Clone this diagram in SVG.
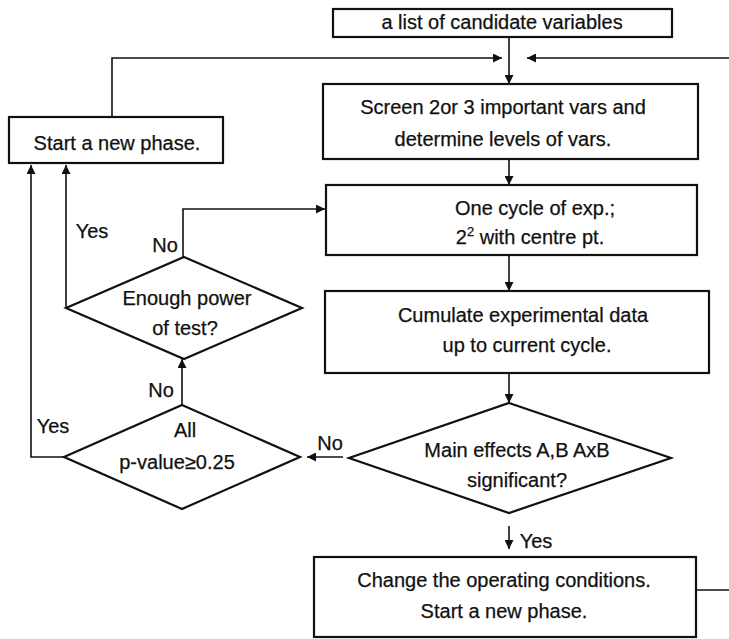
<svg xmlns="http://www.w3.org/2000/svg" width="729" height="639" viewBox="0 0 729 639">
<style>
.box{fill:#fff;stroke:#111;stroke-width:2.2}
.ln{fill:none;stroke:#111;stroke-width:1.6}
text{font-family:"Liberation Sans",Arial,sans-serif;font-size:20px;fill:#111;text-anchor:middle;stroke:#111;stroke-width:0.25}
</style>
<defs>
<marker id="ah" viewBox="0 0 10 10" refX="10" refY="5" markerWidth="11" markerHeight="9" markerUnits="userSpaceOnUse" orient="auto">
<path d="M0,0 L10,5 L0,10 z" fill="#111"/>
</marker>
</defs>
<rect width="729" height="639" fill="#fff"/>
<g id="connectors">
<path class="ln" d="M509,37 V84" marker-end="url(#ah)"/>
<path class="ln" d="M112,117 V58 H502" marker-end="url(#ah)"/>
<path class="ln" d="M696,590 H745 V58 H527" marker-end="url(#ah)"/>
<path class="ln" d="M509,159 V185" marker-end="url(#ah)"/>
<path class="ln" d="M509,255 V291" marker-end="url(#ah)"/>
<path class="ln" d="M509,373 V403" marker-end="url(#ah)"/>
<path class="ln" d="M343,457 H307" marker-end="url(#ah)"/>
<path class="ln" d="M509,526 V549" marker-end="url(#ah)"/>
<path class="ln" d="M182,405 V359" marker-end="url(#ah)"/>
<path class="ln" d="M183,257 V209 H325" marker-end="url(#ah)"/>
<path class="ln" d="M66,308 V165" marker-end="url(#ah)"/>
<path class="ln" d="M64,457 H31 V165" marker-end="url(#ah)"/>
<text x="92" y="238">Yes</text>
<text x="165" y="252">No</text>
<text x="161" y="397">No</text>
<text x="53" y="433">Yes</text>
<text x="330" y="450">No</text>
<text x="536" y="548">Yes</text>
</g>
<g id="n-candidates">
<rect class="box" x="333" y="9" width="339" height="28"/>
<text x="502" y="29">a list of candidate variables</text>
</g>
<g id="n-screen">
<rect class="box" x="323" y="84" width="375" height="75"/>
<text x="503" y="114">Screen 2or 3 important vars and</text>
<text x="503" y="146">determine levels of vars.</text>
</g>
<g id="n-start">
<rect class="box" x="9" y="117" width="214" height="46"/>
<text x="117" y="150">Start a new phase.</text>
</g>
<g id="n-cycle">
<rect class="box" x="326" y="185" width="371" height="70"/>
<text x="535" y="215">One cycle of exp.;</text>
<text x="530" y="244">2<tspan dy="-8" font-size="13">2</tspan><tspan dy="8"> with centre pt.</tspan></text>
</g>
<g id="n-cumulate">
<rect class="box" x="325" y="291" width="384" height="82"/>
<text x="523" y="322">Cumulate experimental data</text>
<text x="527" y="352">up to current cycle.</text>
</g>
<g id="n-main">
<polygon class="box" points="509,403 671,458 509,513 349,458"/>
<text x="517" y="457">Main effects A,B AxB</text>
<text x="517" y="487">significant?</text>
</g>
<g id="n-enough">
<polygon class="box" points="184,257 302,308 184,359 66,308"/>
<text x="187" y="305">Enough power</text>
<text x="185" y="335">of test?</text>
</g>
<g id="n-all">
<polygon class="box" points="182,405 300,457 182,509 64,457"/>
<text x="185" y="437">All</text>
<text x="177" y="469">p-value≥0.25</text>
</g>
<g id="n-change">
<rect class="box" x="314" y="557" width="382" height="80"/>
<text x="504" y="587">Change the operating conditions.</text>
<text x="504" y="618">Start a new phase.</text>
</g>
</svg>
